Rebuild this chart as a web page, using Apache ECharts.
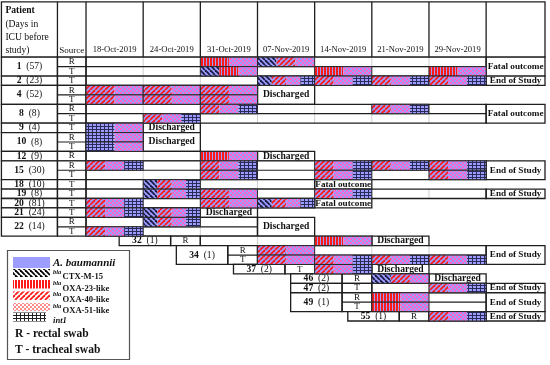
<!DOCTYPE html>
<html><head><meta charset="utf-8">
<script src="https://cdn.jsdelivr.net/npm/echarts@6/dist/echarts.min.js"></script>
<style>html,body{margin:0;padding:0;background:#fff}#c{width:550px;height:365px}</style>
</head><body><div id="c"></div>
<script>
// ---------- data ----------
const dateLabels = ['18-Oct-2019','24-Oct-2019','31-Oct-2019','07-Nov-2019','14-Nov-2019','21-Nov-2019','29-Nov-2019'];
const patientIds = ['1','2','4','8','9','10','12','15','18','19','20','21','22','32','34','37','46','47','49','55'];
const icuDays    = [57,23,52,8,4,8,9,30,10,8,81,24,14,1,1,2,2,2,1,1];
const swabSources = ['RT','T','RT','RT','T','RT','R','RT','T','T','T','T','RT','R','RT','T','R','T','RT','R'];
const entryCol   = [0,0,0,0,0,0,0,0,0,0,0,0,0,2,3,4,5,5,5,6];
const outcomeText = ['Fatal outcome','End of Study','Discharged','Fatal outcome','Discharged','Discharged','Discharged','End of Study','Fatal outcome','End of Study','Fatal outcome','Discharged','Discharged','Discharged','End of Study','Discharged','Discharged','End of Study','End of Study','End of Study'];
const outcomeCol = [7,7,3,7,1,1,3,7,4,7,4,2,3,5,7,5,6,7,7,7];
// X = blaCTX-M-15, V = blaOXA-23-like, D = blaOXA-40-like, C = blaOXA-51-like, G = int1
const bars = [
 ['1','R',2,'VC'],['1','R',3,'XDC'],
 ['1','T',2,'XVC'],['1','T',4,'VC'],['1','T',6,'VC'],
 ['2','T',3,'XDCG'],['2','T',4,'DCG'],['2','T',5,'DCG'],['2','T',6,'DCG'],
 ['4','R',0,'DC'],['4','R',1,'DC'],['4','R',2,'DC'],
 ['4','T',0,'DC'],['4','T',1,'DC'],['4','T',2,'DC'],
 ['8','R',2,'DCG'],['8','R',5,'DCG'],
 ['8','T',1,'DCG'],
 ['9','T',0,'GC'],
 ['10','R',0,'GC'],['10','T',0,'GC'],
 ['12','R',2,'VC'],
 ['15','R',0,'DCG'],['15','R',2,'DCG'],['15','R',4,'DCG'],['15','R',5,'DCG'],['15','R',6,'DCG'],
 ['15','T',2,'DCG'],['15','T',4,'DCG'],['15','T',6,'DCG'],
 ['18','T',1,'XDCG'],
 ['19','T',1,'XDCG'],['19','T',2,'DC'],['19','T',4,'DCG'],
 ['20','T',0,'DCG'],['20','T',2,'DC'],['20','T',3,'XDCG'],
 ['21','T',0,'DCG'],['21','T',1,'XDCG'],
 ['22','R',1,'XDCG'],['22','T',0,'DCG'],
 ['32','R',4,'VC'],
 ['34','R',3,'DC'],['34','T',3,'DC'],['34','T',4,'DCG'],['34','T',5,'DCG'],['34','T',6,'DCG'],
 ['37','T',4,'DCG'],
 ['46','R',5,'XDC'],
 ['47','T',6,'DCG'],
 ['49','R',5,'VC'],['49','T',5,'VC'],
 ['55','R',6,'DCG']
];
const legendGenes = ['CTX-M-15','OXA-23-like','OXA-40-like','OXA-51-like'];
const legendCodes = ['X','V','D','C'];
const sourceNotes = ['R - rectal swab','T - tracheal swab'];

// ---------- styling ----------
const FONT = 'Liberation Serif';
const DARK = '#1e1e1e';
const BLUE = '#9d9dff';
const PINK = '#ff66cc';
const OUT_R = 8.03;

const rowStart = []; { let acc = 0; swabSources.forEach(s => { rowStart.push(acc); acc += s.length; }); }
function subRowOf(b){ const i = patientIds.indexOf(b[0]); return rowStart[i] + swabSources[i].indexOf(b[1]); }

function makeTile(code, bg, legend){
  const cv = document.createElement('canvas');
  let w = 4, h = 4;
  if (code === 'V') { w = 3; h = 2; }
  if (code === 'D' || code === 'X') { w = 5; h = 5; }
  if (code === 'G') { w = 4; h = 3; }
  cv.width = w; cv.height = h;
  const ctx = cv.getContext('2d');
  ctx.fillStyle = bg; ctx.fillRect(0,0,w,h);
  if (code === 'V') { ctx.fillStyle = '#ff1a1a'; ctx.fillRect(0,0,2,h); }
  if (code === 'C') { ctx.fillStyle = legend ? '#ff8c8c' : PINK; ctx.fillRect(0,0,2,2); ctx.fillRect(2,2,2,2); }
  if (code === 'G') { ctx.fillStyle = legend ? '#222' : '#2a2a58'; ctx.fillRect(0,0,w,1); ctx.fillRect(0,0,1,h); }
  if (code === 'D' || code === 'X') {
    ctx.strokeStyle = code === 'D' ? '#ff1a1a' : (legend ? '#000' : '#1a1a45');
    ctx.lineWidth = 1.8;
    for (const o of [-w,0,w]) {
      ctx.beginPath();
      if (code === 'D') { ctx.moveTo(o, h); ctx.lineTo(o+w, 0); }
      else { ctx.moveTo(o, 0); ctx.lineTo(o+w, h); }
      ctx.stroke();
    }
  }
  return {image: cv, repeat: 'repeat'};
}
const fills = {}, legendFills = {};
['X','V','D','C','G'].forEach(k => { fills[k] = makeTile(k, BLUE, false); legendFills[k] = makeTile(k, '#ffffff', true); });

function txt(text, x, y, o){
  return {type:'text', style: Object.assign({text, x, y, fill:'#111', fontFamily: FONT, fontSize: 9, align:'center', verticalAlign:'middle'}, o || {})};
}
function ln(p, q, stroke, w){ return {type:'line', shape:{x1:p[0],y1:p[1],x2:q[0],y2:q[1]}, style:{stroke, lineWidth:w}}; }
function rc(a, b, style){ return {type:'rect', shape:{x:a[0],y:a[1],width:b[0]-a[0],height:b[1]-a[1]}, style}; }

function renderHeader(params, api){
  const c = (x,y) => api.coord([x,y]);
  const top = -5.88, L = -1.48;
  const kids = [];
  kids.push(rc(c(L,top), c(OUT_R,0), {fill:'#fff', stroke:DARK, lineWidth:1.3}));
  [-0.5,0,1,2,3,4,5,6,7].forEach(x => kids.push(ln(c(x,top), c(x,0), DARK, 1.3)));
  const base = c(L,0);
  ['Patient','(Days in','ICU before','study)'].forEach((t,k) => kids.push(txt(t, base[0]+4, base[1]-46.5+k*13.4, {align:'left', fontSize:9.6, fontWeight: k===0?'bold':'normal'})));
  const s = c(-0.25,0);
  kids.push(txt('Source', s[0], s[1]-7, {fontSize:9}));
  dateLabels.forEach((d,k) => { const p = c(k+0.5,0); kids.push(txt(d, p[0], p[1]-7, {fontSize:8.6})); });
  return {type:'group', children:kids};
}

function renderBlock(params, api){
  const i = params.dataIndex;
  const c = (x,y) => api.coord([x,y]);
  const e = entryCol[i], oc = outcomeCol[i], src = swabSources[i], r0 = rowStart[i], n = src.length;
  const pL = e === 0 ? -1.48 : e - 1.42;
  const sL = e === 0 ? -0.5 : e - 0.52;
  const oR = oc === 7 ? OUT_R : oc + 1;
  const kids = [];
  kids.push(rc(c(pL,r0), c(oR,r0+n), {fill:'#fff'}));
  for (let x = e+1; x < oc; x++) kids.push(ln(c(x,r0), c(x,r0+n), '#cfcfcf', 1));
  for (let k = 1; k < n; k++) kids.push(ln(c(sL,r0+k), c(oc,r0+k), DARK, 1.2));
  kids.push(rc(c(pL,r0), c(sL,r0+n), {fill:null, stroke:DARK, lineWidth:1.3}));
  kids.push(rc(c(sL,r0), c(e,r0+n), {fill:null, stroke:DARK, lineWidth:1.3}));
  kids.push(rc(c(e,r0), c(oc,r0+n), {fill:null, stroke:DARK, lineWidth:1.3}));
  kids.push(rc(c(oc,r0), c(oR,r0+n), {fill:null, stroke:DARK, lineWidth:1.3}));
  const pc = c((pL+sL)/2, r0+n/2);
  kids.push({type:'text', style:{text:'{b|'+patientIds[i]+'}{n|  ('+icuDays[i]+')}', x:pc[0], y:pc[1], align:'center', verticalAlign:'middle',
    rich:{b:{fontFamily:FONT, fontSize:9.6, fontWeight:'bold', fill:'#111'}, n:{fontFamily:FONT, fontSize:9.6, fill:'#111'}}}});
  for (let k = 0; k < n; k++) { const p = c((sL+e)/2, r0+k+0.5); kids.push(txt(src[k], p[0], p[1], {fontSize:9})); }
  const op = c((oc+oR)/2, r0+n/2);
  const fs = outcomeText[i] === 'Discharged' ? 9.6 : 9.2;
  kids.push(txt(outcomeText[i], op[0], op[1], {fontWeight:'bold', fontSize:fs}));
  return {type:'group', children:kids};
}

function renderBar(params, api){
  const b = bars[params.dataIndex];
  const row = subRowOf(b), col = b[2], codes = b[3];
  const tl = api.coord([col,row]), br = api.coord([col+1,row+1]);
  const w = (br[0]-tl[0]) / codes.length;
  const kids = [];
  for (let j = 0; j < codes.length; j++) {
    kids.push({type:'rect', shape:{x:tl[0]+j*w, y:tl[1], width:w, height:br[1]-tl[1]}, style:{fill: fills[codes[j]]}});
  }
  kids.push(rc(tl, br, {fill:null, stroke:'#2a2a2a', lineWidth:1}));
  return {type:'group', children:kids};
}

// legend (graphic)
const legendEls = [];
legendEls.push({type:'rect', shape:{x:7.5,y:250.5,width:122,height:109}, style:{fill:'#fff', stroke:'#555', lineWidth:1.2}});
legendEls.push({type:'rect', shape:{x:13,y:257,width:37,height:11}, style:{fill:BLUE}});
legendEls.push({type:'text', style:{text:'A. baumannii', x:53, y:263.5, fill:'#111', fontFamily:FONT, fontSize:11, fontWeight:'bold', fontStyle:'italic', align:'left', verticalAlign:'middle'}});
const swY = [[269,277],[280,288.5],[291.5,300],[303,311]];
const txY = [277,288.5,299.5,311];
legendGenes.forEach((g,k) => {
  legendEls.push({type:'rect', shape:{x:13,y:swY[k][0],width:37,height:swY[k][1]-swY[k][0]}, style:{fill: legendFills[legendCodes[k]]}});
  legendEls.push({type:'text', style:{text:'bla', x:53, y:txY[k]-5, fill:'#111', fontFamily:FONT, fontSize:6.5, fontStyle:'italic', fontWeight:'bold', align:'left', verticalAlign:'middle'}});
  legendEls.push({type:'text', style:{text:g, x:62.5, y:txY[k], fill:'#111', fontFamily:FONT, fontSize:8.6, fontWeight:'bold', align:'left', verticalAlign:'middle'}});
});
legendEls.push({type:'rect', shape:{x:13,y:312.5,width:33,height:9}, style:{fill: legendFills['G']}});
legendEls.push({type:'text', style:{text:'int1', x:53, y:320.5, fill:'#111', fontFamily:FONT, fontSize:8.6, fontWeight:'bold', fontStyle:'italic', align:'left', verticalAlign:'middle'}});
sourceNotes.forEach((t,k) => legendEls.push({type:'text', style:{text:t, x:15, y:334+k*16.5, fill:'#111', fontFamily:FONT, fontSize:11.5, fontWeight:'bold', align:'left', verticalAlign:'middle'}}));

const chart = echarts.init(document.getElementById('c'), null, {renderer:'canvas', width:550, height:365});
chart.setOption({
  animation: false,
  grid: {left:0, right:5, top:0, height:321, containLabel:false, outerBoundsMode:'none'},
  xAxis: {type:'value', min:-1.505, max:8.03, show:false},
  yAxis: {type:'value', min:-6.07, max:28, inverse:true, show:false},
  series: [
    {type:'custom', renderItem: renderHeader, data:[[0,0]], silent:true, clip:false},
    {type:'custom', renderItem: renderBlock, data: patientIds.map((p,i)=>[i,rowStart[i]]), silent:true, clip:false},
    {type:'custom', renderItem: renderBar, data: bars.map(b=>[b[2], subRowOf(b)]), silent:true, clip:false}
  ],
  graphic: legendEls
});
</script></body></html>
